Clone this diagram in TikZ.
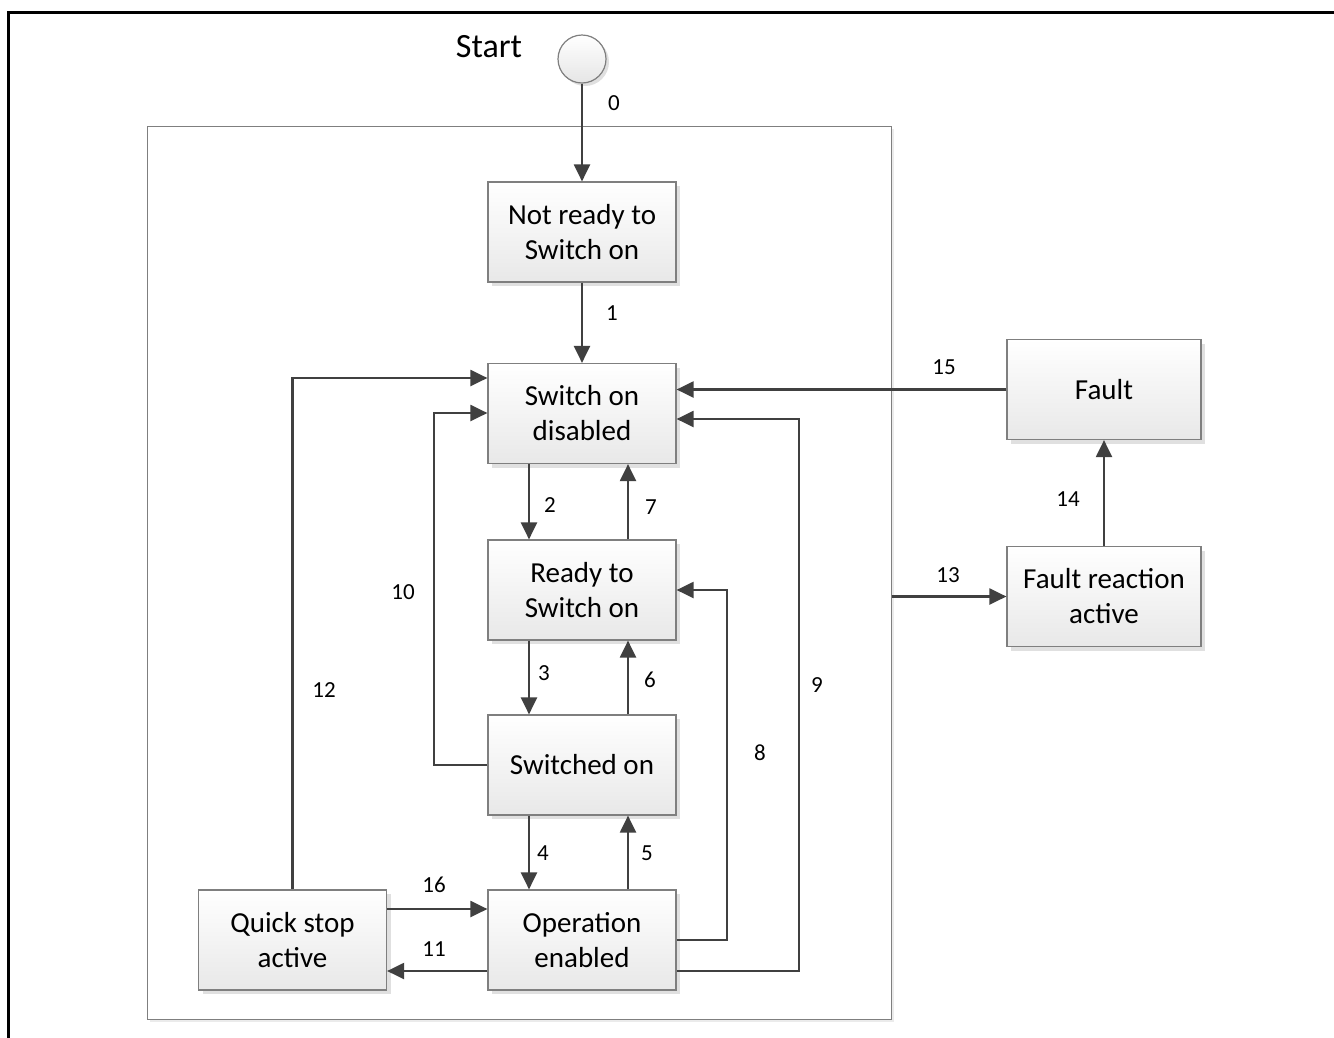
\documentclass[tikz,border=0pt]{standalone}
\usepackage{fontspec}
\setmainfont{Carlito}
\usetikzlibrary{arrows.meta,shadows}
\definecolor{ln}{HTML}{404040}
\definecolor{bd}{HTML}{7F7F7F}
\begin{document}
\begin{tikzpicture}[x=1pt,y=-1pt,
  state/.style={draw=bd, line width=1.2pt, top color=white, bottom color=black!9,
    minimum width=188pt, minimum height=100pt, inner sep=0pt, align=center,
    font=\fontsize{29}{35}\selectfont,
    drop shadow={shadow xshift=4pt, shadow yshift=-4pt, fill=black!12, opacity=1}},
  wide/.style={minimum width=194pt},
  lbl/.style={font=\fontsize{23}{27}\selectfont, inner sep=0pt},
  conn/.style={draw=ln, line width=2.2pt, -{Triangle[length=17pt,width=16pt]}},
]
\useasboundingbox (0,0) rectangle (1334,1037);
\draw[line width=3pt] (8,1045) -- (8,12) -- (1345,12);

% inner frame
\node[draw=bd, line width=1pt, minimum width=744pt, minimum height=893pt, inner sep=0pt,
  drop shadow={shadow xshift=3pt, shadow yshift=-3pt, fill=black!8, opacity=1}, fill=white] (frame) at (519,572.5) {};

% start
\node[font=\fontsize{34}{40}\selectfont, inner sep=0pt] (starttxt) at (489,47) {Start};
\node[circle, draw=bd, line width=1.2pt, minimum size=48pt, inner sep=0pt, top color=white, bottom color=black!10,
  drop shadow={shadow xshift=3pt, shadow yshift=-3pt, fill=black!12, opacity=1}] (st) at (582,59) {};

% states
\node[state] (nr)  at (582,232)   {Not ready to\\Switch on};
\node[state] (sod) at (582,413.5) {Switch on\\disabled};
\node[state] (rdy) at (582,590)   {Ready to\\Switch on};
\node[state] (son) at (582,765)   {Switched on};
\node[state] (oe)  at (582,940)   {Operation\\enabled};
\node[state] (qs)  at (292.5,940) {Quick stop\\active};
\node[state,wide] (flt) at (1104,389.5) {Fault};
\node[state,wide] (fra) at (1104,596.5) {Fault reaction\\active};

% helper coordinates
\coordinate (xa) at (529,0);
\coordinate (xb) at (628,0);
\coordinate (y909) at (0,909);
\coordinate (y971) at (0,971);
\coordinate (k10) at (434,413);
\coordinate (k12) at (292.5,378);
\coordinate (k8) at (727,590);
\coordinate (k9) at (799,419);

% connectors
\draw[conn] (st.south) -- (nr.north);
\draw[conn] (nr.south) -- (sod.north);
\draw[conn] (sod.south -| xa) -- (rdy.north -| xa);
\draw[conn] (rdy.north -| xb) -- (sod.south -| xb);
\draw[conn] (rdy.south -| xa) -- (son.north -| xa);
\draw[conn] (son.north -| xb) -- (rdy.south -| xb);
\draw[conn] (son.south -| xa) -- (oe.north -| xa);
\draw[conn] (oe.north -| xb) -- (son.south -| xb);
\draw[conn] (son.west) -| (k10) -- (sod.west |- k10);
\draw[conn] (qs.north) -- (k12) -- (sod.west |- k12);
\draw[conn] (qs.east |- y909) -- (oe.west |- y909);
\draw[conn] (oe.west |- y971) -- (qs.east |- y971);
\draw[conn] (oe.east) -| (k8) -- (rdy.east |- k8);
\draw[conn] (oe.east |- y971) -| (k9) -- (sod.east |- k9);
\draw[conn] (flt.west) -- (sod.east |- flt.west);
\draw[conn] (frame.east |- fra.west) -- (fra.west);
\draw[conn] (fra.north) -- (flt.south);

% labels
\node[lbl] (l0)  at (614,103) {0};
\node[lbl] (l1)  at (612,313) {1};
\node[lbl] (l2)  at (550,505) {2};
\node[lbl] (l7)  at (651,507) {7};
\node[lbl] (l3)  at (544,673) {3};
\node[lbl] (l6)  at (650,680) {6};
\node[lbl] (l4)  at (543,853) {4};
\node[lbl] (l5)  at (647,853) {5};
\node[lbl] (l10) at (403,592) {10};
\node[lbl] (l12) at (324,690) {12};
\node[lbl] (l16) at (434,885) {16};
\node[lbl] (l11) at (434,949) {11};
\node[lbl] (l8)  at (760,753) {8};
\node[lbl] (l9)  at (817,685) {9};
\node[lbl] (l15) at (944,367) {15};
\node[lbl] (l13) at (948,575) {13};
\node[lbl] (l14) at (1068,499) {14};
\end{tikzpicture}
\end{document}
